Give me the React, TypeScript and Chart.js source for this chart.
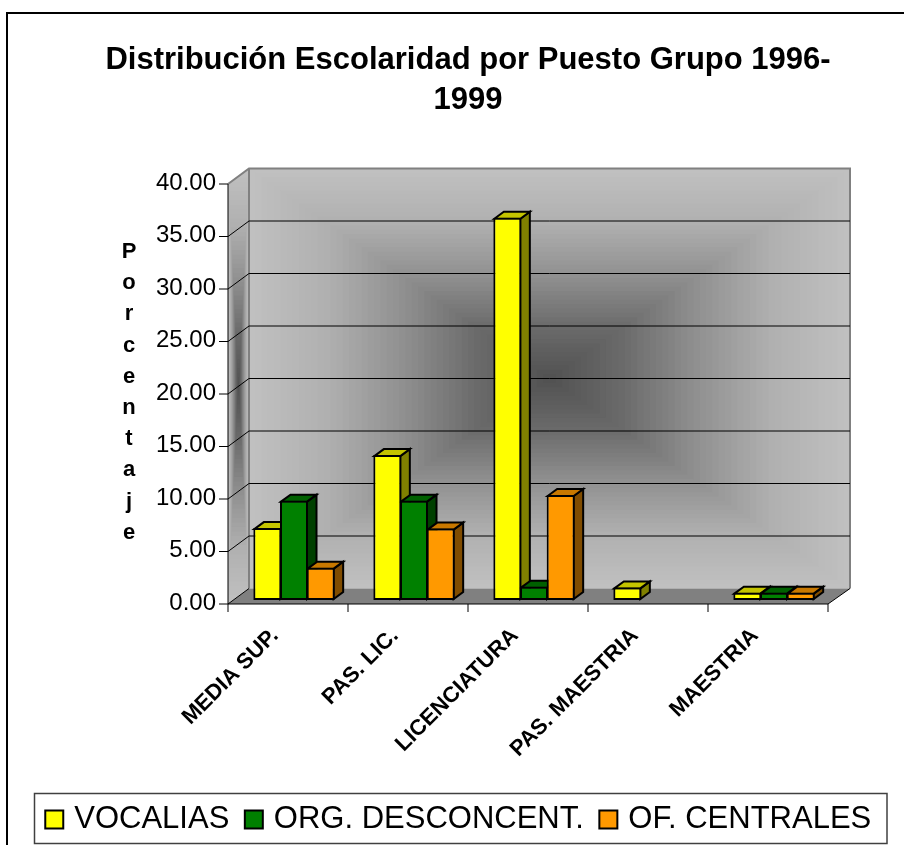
import React, { useEffect, useRef } from "react";
import { Chart, registerables } from "chart.js";

Chart.register(...registerables);

const categories = ["MEDIA SUP.", "PAS. LIC.", "LICENCIATURA", "PAS. MAESTRIA", "MAESTRIA"];
const vocalias = [6.85, 13.8, 36.4, 1.2, 0.7];
const orgDesconcent = [9.46, 9.46, 1.27, null, 0.7];
const ofCentrales = [3.08, 6.8, 10.0, null, 0.7];
const seriesNames = ["VOCALIAS", "ORG. DESCONCENT.", "OF. CENTRALES"];
const frontColors = ["#ffff00", "#008000", "#ff9900"];
const topColors = ["#c4c400", "#006000", "#c87800"];
const sideColors = ["#808000", "#004000", "#804c00"];
const titleLines = ["Distribución Escolaridad por Puesto Grupo 1996-", "1999"];
const yAxisTitle = "Porcentaje";
const wallRamp = [192, 176, 144, 106, 80];

const FONT = "'Liberation Sans', Arial, sans-serif";

function rampGray(t: number) {
  const p = Math.min(t, 0.9999) * (wallRamp.length - 1);
  const i = Math.floor(p);
  const g = Math.round(wallRamp[i] + (wallRamp[i + 1] - wallRamp[i]) * (p - i));
  return `rgb(${g},${g},${g})`;
}

function rectGradient(ctx: CanvasRenderingContext2D, x0: number, y0: number, x1: number, y1: number) {
  const bands = 48;
  const hw = (x1 - x0) / 2;
  const hh = (y1 - y0) / 2;
  for (let k = 0; k < bands; k++) {
    const t = k / bands;
    ctx.fillStyle = rampGray(t);
    ctx.fillRect(x0 + hw * t, y0 + hh * t, (x1 - x0) * (1 - t), (y1 - y0) * (1 - t));
  }
}

function poly(ctx: CanvasRenderingContext2D, pts: number[][], fill: string) {
  ctx.beginPath();
  pts.forEach((p, i) => (i ? ctx.lineTo(p[0], p[1]) : ctx.moveTo(p[0], p[1])));
  ctx.closePath();
  ctx.fillStyle = fill;
  ctx.fill();
  ctx.lineWidth = 2;
  ctx.lineJoin = "miter";
  ctx.strokeStyle = "#000";
  ctx.stroke();
}

const scenePlugin = {
  id: "scene3d",
  afterLayout(chart: any) {
    const lg = chart.legend;
    const h = lg.bottom - lg.top;
    lg.left += 8.5;
    lg.right += 8.5;
    lg.top = 784;
    lg.bottom = 784 + h;
    lg.adjustHitBoxes && lg.adjustHitBoxes();
    chart.titleBlock.left += 16;
    chart.titleBlock.right += 16;
  },
  beforeDatasetsDraw(chart: any) {
    const ctx: CanvasRenderingContext2D = chart.ctx;
    const { y: ys, chartArea: a } = { y: chart.scales.y, chartArea: chart.chartArea };
    const backX0 = a.left + 15;
    const backX1 = a.right + 16;
    const frontX0 = a.left - 6;
    const frontX1 = a.right - 6;
    const by = (v: number) => ys.getPixelForValue(v) - 11.5;
    const fy = (v: number) => ys.getPixelForValue(v) + 4;
    ctx.save();
    // outer frame
    ctx.strokeStyle = "#000";
    ctx.lineWidth = 2;
    ctx.strokeRect(7, 13, 920, 860);
    // legend frame
    ctx.strokeStyle = "#404040";
    ctx.lineWidth = 1.5;
    ctx.strokeRect(34.5, 793.5, 852.5, 50);
    // back wall
    const top = by(40);
    const bot = by(0);
    rectGradient(ctx, backX0, top, backX1, bot);
    // left wall
    ctx.save();
    ctx.beginPath();
    ctx.moveTo(frontX0, fy(40));
    ctx.lineTo(backX0, top);
    ctx.lineTo(backX0, bot);
    ctx.lineTo(frontX0, fy(0));
    ctx.closePath();
    ctx.clip();
    rectGradient(ctx, frontX0, top, backX0, fy(0));
    ctx.restore();
    // floor
    ctx.fillStyle = "#808080";
    ctx.beginPath();
    ctx.moveTo(frontX0, fy(0));
    ctx.lineTo(backX0, bot);
    ctx.lineTo(backX1, bot);
    ctx.lineTo(frontX1, fy(0));
    ctx.closePath();
    ctx.fill();
    // wall edges
    ctx.strokeStyle = "#808080";
    ctx.lineWidth = 2;
    ctx.beginPath();
    ctx.moveTo(frontX0, fy(40));
    ctx.lineTo(backX0, top);
    ctx.lineTo(backX1, top);
    ctx.lineTo(backX1, bot);
    ctx.moveTo(backX0, top);
    ctx.lineTo(backX0, bot);
    ctx.stroke();
    // grid lines
    ctx.strokeStyle = "#000";
    ctx.lineWidth = 1;
    ys.ticks.forEach((t: any) => {
      const v = t.value;
      ctx.beginPath();
      ctx.moveTo(frontX0 - 9, fy(v));
      ctx.lineTo(frontX0, fy(v));
      if (v > 0 && v < 40) {
        ctx.lineTo(backX0, by(v));
        ctx.lineTo(backX1, by(v));
      } else if (v === 0) {
        ctx.lineTo(backX0, by(v));
        ctx.moveTo(frontX1, fy(v));
        ctx.lineTo(backX1, by(v));
      }
      ctx.stroke();
    });
    // front axes
    ctx.beginPath();
    ctx.moveTo(frontX0, fy(40));
    ctx.lineTo(frontX0, fy(0));
    ctx.lineTo(frontX1, fy(0));
    ctx.stroke();
    const step = (a.right - a.left) / categories.length;
    for (let i = 0; i <= categories.length; i++) {
      const x = frontX0 + i * step;
      ctx.beginPath();
      ctx.moveTo(x, fy(0));
      ctx.lineTo(x, fy(0) + 8);
      ctx.stroke();
    }
    // bar tops and sides
    const dx = 9.5;
    const dy = 7;
    categories.forEach((_, c) => {
      chart.data.datasets.forEach((_d: any, s: number) => {
        const el = chart.getDatasetMeta(s).data[c];
        if (!el || chart.data.datasets[s].data[c] == null) return;
        const r = el.x + el.width / 2 - 1;
        const l = el.x - el.width / 2 + 1;
        poly(ctx, [[r, el.y + 1], [r + dx, el.y + 1 - dy], [r + dx, el.base - 1 - dy], [r, el.base - 1]], sideColors[s]);
        poly(ctx, [[l, el.y + 1], [l + dx, el.y + 1 - dy], [r + dx, el.y + 1 - dy], [r, el.y + 1]], topColors[s]);
      });
    });
    // vertical axis title
    ctx.fillStyle = "#000";
    ctx.font = `bold 22px ${FONT}`;
    ctx.textAlign = "center";
    ctx.textBaseline = "middle";
    yAxisTitle.split("").forEach((ch, i) => ctx.fillText(ch, 129, 252 + i * 31.2));
    ctx.restore();
  },
};

export default function App() {
  const ref = useRef<HTMLCanvasElement>(null);
  useEffect(() => {
    const chart = new Chart(ref.current!, {
      type: "bar",
      plugins: [scenePlugin],
      data: {
        labels: categories,
        datasets: [vocalias, orgDesconcent, ofCentrales].map((d, i) => ({
          label: seriesNames[i],
          data: d,
          backgroundColor: frontColors[i],
          borderColor: "#000",
          borderWidth: 2,
          borderSkipped: false,
          categoryPercentage: 0.6667,
          barPercentage: 1.05,
        })),
      },
      options: {
        responsive: false,
        animation: false,
        layout: { padding: 0 },
        scales: {
          x: {
            grid: { display: false },
            border: { display: false },
            afterFit(s: any) {
              s.height = 845 - 600 - s.chart.legend.height;
            },
            ticks: {
              autoSkip: false,
              minRotation: 45,
              maxRotation: 45,
              padding: 15,
              labelOffset: -19,
              color: "#000",
              font: { family: FONT, size: 22, weight: "bold" },
            },
          },
          y: {
            min: 0,
            max: 40,
            grid: { display: false },
            border: { display: false },
            afterFit(s: any) {
              s.width = 234;
            },
            ticks: {
              stepSize: 5,
              padding: 10,
              labelOffset: 3,
              color: "#000",
              font: { family: FONT, size: 24 },
              callback: (v: any) => Number(v).toFixed(2),
            },
          },
          spacer: {
            position: "right",
            min: 0,
            max: 1,
            grid: { display: false },
            border: { display: false },
            ticks: { display: false },
            afterFit(s: any) {
              s.width = 70;
            },
          },
        },
        plugins: {
          tooltip: { enabled: false },
          title: {
            display: true,
            text: titleLines,
            color: "#000",
            font: { family: FONT, size: 31, weight: "bold", lineHeight: 40 / 31 },
            padding: { top: 40.5, bottom: 59.5 },
          },
          legend: {
            display: true,
            position: "bottom",
            labels: {
              usePointStyle: true,
              pointStyle: "rect",
              boxWidth: 9,
              boxHeight: 18,
              padding: 20,
              color: "#000",
              font: { family: FONT, size: 31 },
            },
          },
        },
      } as any,
    });
    return () => chart.destroy();
  }, []);
  return (
    <canvas
      ref={ref}
      width={904}
      height={845}
      style={{ display: "block", position: "absolute", left: 0, top: 0 }}
    />
  );
}
